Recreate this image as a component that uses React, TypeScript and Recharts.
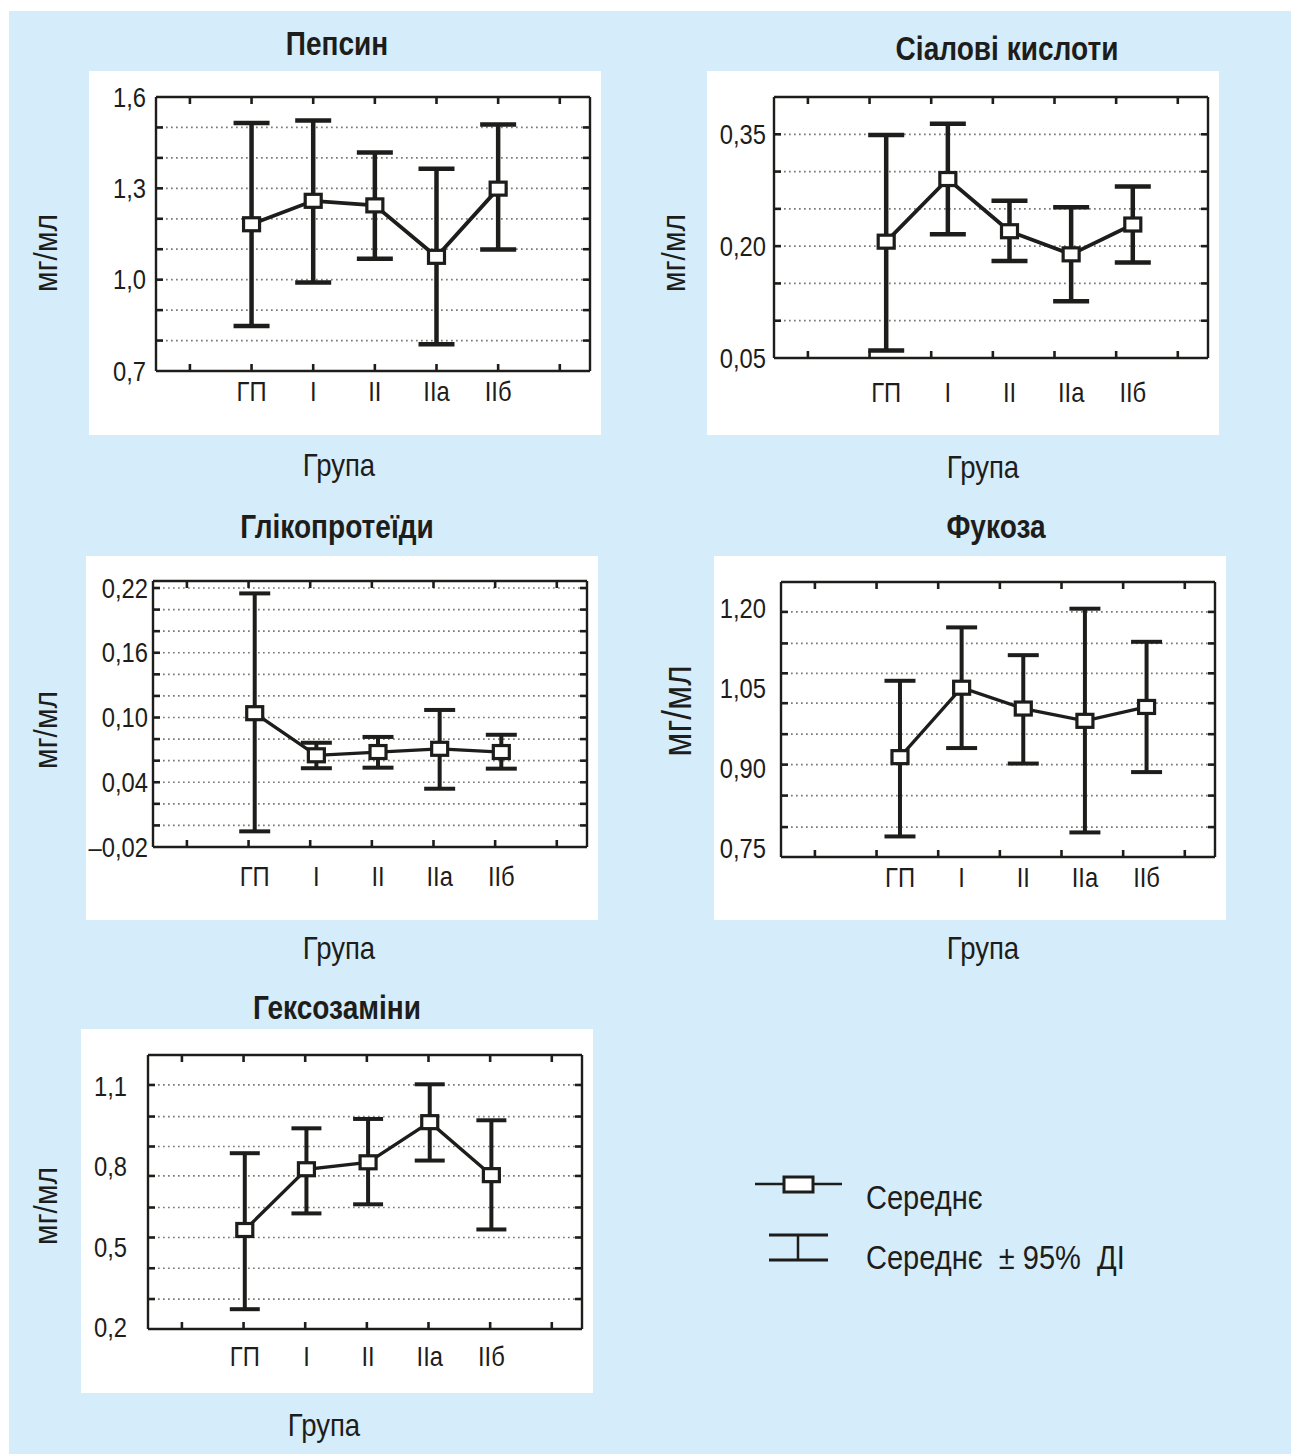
import React from 'react';
import { ComposedChart, Line, ErrorBar, XAxis, YAxis, CartesianGrid } from 'recharts';

const INK = '#1d1d1b';
const PANEL = '#d5ecfa';
const FONT = '"Liberation Sans", Arial, sans-serif';

// categories on the x axis (positions 1 and 7 are empty frame ticks)
const groups = ['ГП', 'I', 'II', 'IIа', 'IIб'];
const groupX = [2, 3, 4, 5, 6];
const frameTicks = [1, 2, 3, 4, 5, 6, 7];

// Пепсин
const pepsinMean = [1.182, 1.259, 1.244, 1.075, 1.299];
const pepsinLow = [0.848, 0.991, 1.069, 0.788, 1.099];
const pepsinHigh = [1.515, 1.523, 1.418, 1.364, 1.51];
const pepsinTicks = [0.7, 1.0, 1.3, 1.6];
const pepsinGrid = [0.8, 0.9, 1.0, 1.1, 1.2, 1.3, 1.4, 1.5];

// Сіалові кислоти
const sialMean = [0.206, 0.29, 0.22, 0.189, 0.229];
const sialLow = [0.06, 0.216, 0.18, 0.126, 0.178];
const sialHigh = [0.349, 0.364, 0.261, 0.252, 0.28];
const sialTicks = [0.05, 0.2, 0.35];
const sialGrid = [0.1, 0.15, 0.2, 0.25, 0.3, 0.35];

// Глікопротеїди
const glycoMean = [0.104, 0.065, 0.068, 0.071, 0.068];
const glycoLow = [-0.0055, 0.053, 0.0535, 0.034, 0.0526];
const glycoHigh = [0.215, 0.0766, 0.082, 0.107, 0.084];
const glycoTicks = [-0.02, 0.04, 0.1, 0.16, 0.22];
const glycoGrid = [0, 0.02, 0.04, 0.06, 0.08, 0.1, 0.12, 0.14, 0.16, 0.18, 0.2, 0.22];

// Фукоза
const fucMean = [0.921, 1.051, 1.012, 0.989, 1.015];
const fucLow = [0.7725, 0.938, 0.909, 0.78, 0.893];
const fucHigh = [1.064, 1.164, 1.112, 1.199, 1.137];
const fucTicks = [0.75, 0.9, 1.05, 1.2];
const fucGrid = [0.79, 0.849, 0.907, 0.964, 1.022, 1.078, 1.134, 1.193];

// Гексозаміни
const hexMean = [0.563, 0.79, 0.816, 0.966, 0.768];
const hexLow = [0.267, 0.625, 0.659, 0.8225, 0.565];
const hexHigh = [0.85, 0.943, 0.978, 1.1075, 0.973];
const hexTicks = [0.2, 0.5, 0.8, 1.1];
const hexGrid = [0.305, 0.42, 0.535, 0.647, 0.765, 0.875, 0.987, 1.105];

const fmt = (v: number, d: number) => v.toFixed(d).replace('.', ',').replace('-', '–');

const panels = [
  {
    title: 'Пепсин', mean: pepsinMean, low: pepsinLow, high: pepsinHigh, ticks: pepsinTicks, grid: pepsinGrid,
    domain: [0.7, 1.6], digits: 1, box: [89, 71], top: 26, bottom: 300, shift: 0, tickRight: 57, catY: 320,
    cap: 18, bw: 4.5, lw: 3.8, titleAt: [337, 43], yLabAt: [45, 253], yLabSize: 34, xLabAt: [339, 465],
  },
  {
    title: 'Сіалові кислоти', mean: sialMean, low: sialLow, high: sialHigh, ticks: sialTicks, grid: sialGrid,
    domain: [0.05, 0.4], digits: 2, box: [707, 71], top: 26, bottom: 287, shift: 0.27, tickRight: 59, catY: 321,
    cap: 18, bw: 4.5, lw: 3.8, titleAt: [1007, 48], yLabAt: [673, 253], yLabSize: 34, xLabAt: [983, 467],
  },
  {
    title: 'Глікопротеїди', mean: glycoMean, low: glycoLow, high: glycoHigh, ticks: glycoTicks, grid: glycoGrid,
    domain: [-0.02, 0.2265], digits: 2, box: [86, 556], top: 25, bottom: 291, shift: 0.1, tickRight: 62, catY: 320,
    cap: 15.5, bw: 4, lw: 3.3, titleAt: [337, 526], yLabAt: [45, 730], yLabSize: 34, xLabAt: [339, 948],
  },
  {
    title: 'Фукоза', mean: fucMean, low: fucLow, high: fucHigh, ticks: fucTicks, grid: fucGrid,
    domain: [0.734, 1.249], digits: 2, box: [714, 556], top: 26, bottom: 301, shift: 0.38, tickRight: 52, catY: 321,
    cap: 15.5, bw: 4, lw: 3.3, titleAt: [996, 526], yLabAt: [677, 711], yLabSize: 40, xLabAt: [983, 948],
  },
  {
    title: 'Гексозаміни', mean: hexMean, low: hexLow, high: hexHigh, ticks: hexTicks, grid: hexGrid,
    domain: [0.193, 1.217], digits: 1, box: [81, 1029], top: 26, bottom: 300, shift: 0.02, tickRight: 46, catY: 327,
    cap: 15, bw: 4, lw: 3.3, titleAt: [337, 1007], yLabAt: [45, 1206], yLabSize: 34, xLabAt: [324, 1425],
  },
];

const W = 512;
const H = 364;
const FRAME_X = [0.45, 7.49];
const TICK_FS = 27;
const TICK_SX = 0.88;

const Txt = ({ x, y, size, bold, rotate, sx = 1, left, children }: any) => (
  <div
    style={{
      position: 'absolute', left: x, top: y, fontSize: size, fontWeight: bold ? 700 : 400, lineHeight: 1,
      whiteSpace: 'pre', color: INK, fontFamily: FONT,
      transformOrigin: left ? '0 50%' : '50% 50%',
      transform: `${left ? 'translate(0,-50%)' : 'translate(-50%,-50%)'}${rotate ? ` rotate(${rotate}deg)` : ''} scaleX(${sx})`,
    }}
  >
    {children}
  </div>
);

// condensed svg label: cap centre sits on cy
const SvgLabel = ({ x, cy, anchor, children }: any) => (
  <text
    transform={`translate(${x},${cy + TICK_FS * 0.358}) scale(${TICK_SX},1)`}
    textAnchor={anchor} fontSize={TICK_FS} fontFamily={FONT} fill={INK}
  >
    {children}
  </text>
);

const Square = (props: any) => {
  const { cx, cy, index } = props;
  if (cx == null || cy == null) return null;
  return <rect key={`sq${index}`} x={cx - 8} y={cy - 6.5} width={16} height={13} fill="#fff" stroke={INK} strokeWidth={3.2} />;
};

const frameAxis = { stroke: INK, strokeWidth: 2.4 };
const frameTick = { stroke: INK, strokeWidth: 2.6 };
const blank = () => '';

const Panel = ({ p }: any) => {
  const rows = p.mean.map((m: number, i: number) => ({
    x: groupX[i],
    mean: m,
    err: [m - p.low[i], p.high[i] - m],
  }));
  const catDomain = [FRAME_X[0] - p.shift, FRAME_X[1] - p.shift];
  return (
    <>
      <div style={{ position: 'absolute', left: p.box[0], top: p.box[1], width: W, height: H, background: '#fff' }}>
        <ComposedChart width={W} height={H} data={rows} margin={{ top: p.top, right: W - 501, bottom: 0, left: 0 }}>
          <CartesianGrid xAxisId="cat" yAxisId="gl" vertical={false} stroke="#7a7a7a" strokeWidth={1.7} strokeDasharray="1.7 3.3" />
          <XAxis
            xAxisId="cat" dataKey="x" type="number" domain={catDomain} ticks={groupX} allowDataOverflow interval={0}
            height={H - p.bottom} axisLine={false} tickLine={false}
            tick={(t: any) => (
              <SvgLabel x={t.x} cy={p.catY} anchor="middle">{groups[t.payload.value - 2]}</SvgLabel>
            )}
          />
          <XAxis xAxisId="top" orientation="top" mirror dataKey="x" type="number" domain={FRAME_X} ticks={frameTicks}
            allowDataOverflow interval={0} tickSize={7} axisLine={frameAxis} tickLine={frameTick} tickFormatter={blank} />
          <XAxis xAxisId="bot" orientation="bottom" mirror dataKey="x" type="number" domain={FRAME_X} ticks={frameTicks}
            allowDataOverflow interval={0} tickSize={7} axisLine={frameAxis} tickLine={frameTick} tickFormatter={blank} />
          <YAxis
            yAxisId="lab" type="number" domain={p.domain} ticks={p.ticks} allowDataOverflow interval={0} width={67}
            axisLine={false} tickLine={false}
            tick={(t: any) => (
              <SvgLabel x={p.tickRight} cy={t.y} anchor="end">{fmt(t.payload.value, p.digits)}</SvgLabel>
            )}
          />
          <YAxis yAxisId="gl" mirror type="number" domain={p.domain} ticks={p.grid} allowDataOverflow interval={0}
            tickSize={7} axisLine={frameAxis} tickLine={frameTick} tickFormatter={blank} />
          <YAxis yAxisId="gr" orientation="right" mirror type="number" domain={p.domain} ticks={p.grid} allowDataOverflow
            interval={0} tickSize={7} axisLine={frameAxis} tickLine={frameTick} tickFormatter={blank} />
          <Line
            xAxisId="cat" yAxisId="lab" dataKey="mean" type="linear" stroke={INK} strokeWidth={p.lw}
            dot={Square} activeDot={false} isAnimationActive={false}
          >
            <ErrorBar dataKey="err" direction="y" width={p.cap} stroke={INK} strokeWidth={p.bw} isAnimationActive={false} />
          </Line>
        </ComposedChart>
      </div>
      <Txt x={p.titleAt[0]} y={p.titleAt[1]} size={33} bold sx={0.85}>{p.title}</Txt>
      <Txt x={p.yLabAt[0]} y={p.yLabAt[1]} size={p.yLabSize} rotate={-90} sx={0.88}>мг/мл</Txt>
      <Txt x={p.xLabAt[0]} y={p.xLabAt[1]} size={32} sx={0.86}>Група</Txt>
    </>
  );
};

const Legend = () => (
  <>
    <svg style={{ position: 'absolute', left: 740, top: 1160 }} width={120} height={120}>
      <line x1={15} y1={24} x2={102} y2={24} stroke={INK} strokeWidth={2.5} />
      <rect x={44} y={17} width={29} height={15} fill="#fff" stroke={INK} strokeWidth={3} />
      <line x1={29} y1={75} x2={88} y2={75} stroke={INK} strokeWidth={3} />
      <line x1={29} y1={100} x2={88} y2={100} stroke={INK} strokeWidth={3} />
      <line x1={58} y1={75} x2={58} y2={100} stroke={INK} strokeWidth={2.5} />
    </svg>
    <Txt x={866} y={1197} size={33} sx={0.88} left>Середнє</Txt>
    <Txt x={866} y={1257} size={33} sx={0.88} left>{'Середнє  ± 95%  ДІ'}</Txt>
  </>
);

export default function App() {
  return (
    <div style={{ position: 'absolute', left: 0, top: 0, width: 1291, height: 1454, background: '#fff', overflow: 'hidden' }}>
      <div style={{ position: 'absolute', left: 9, top: 11, width: 1282, height: 1443, background: PANEL }} />
      {panels.map((p) => (
        <Panel key={p.title} p={p} />
      ))}
      <Legend />
    </div>
  );
}
